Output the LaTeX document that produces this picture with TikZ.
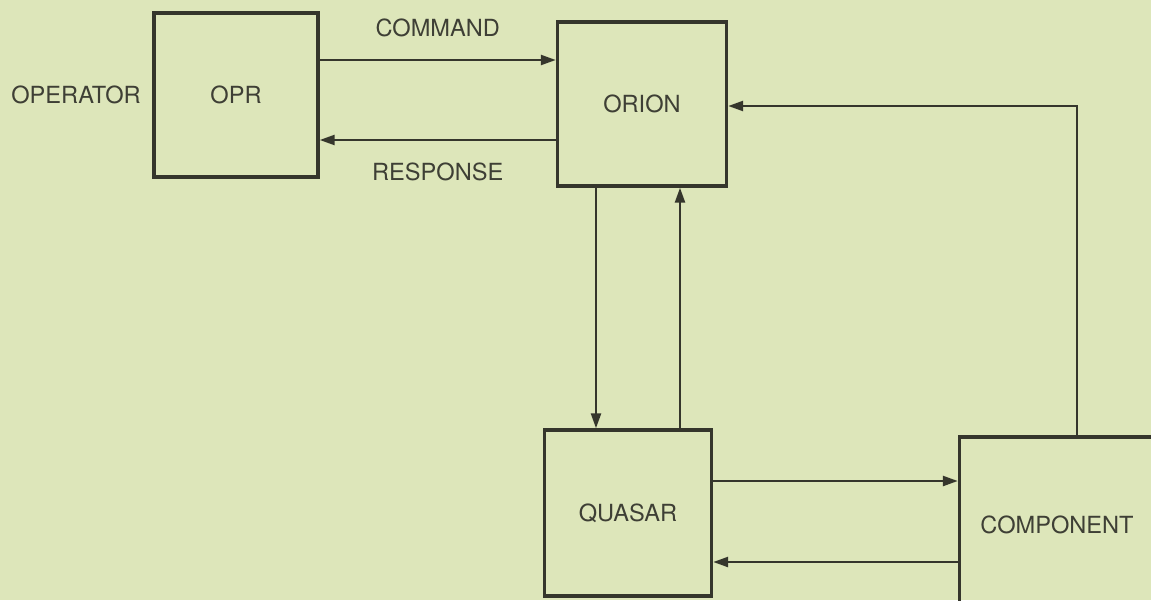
\documentclass[tikz,border=0pt]{standalone}
\usepackage{fontspec}
\setmainfont{TeX Gyre Heros}
\usetikzlibrary{arrows.meta}
\definecolor{paperF}{HTML}{DDE6BA}
\definecolor{inkB}{HTML}{35362C}
\definecolor{txtC}{HTML}{3E3F35}
\tikzset{
 box/.style={draw=inkB, line width=1.7pt, inner sep=0pt, text=txtC, font=\fontsize{11.8}{13}\selectfont},
 lbl/.style={text=txtC, inner sep=0pt, font=\fontsize{11.8}{13}\selectfont},
 arr/.style={-{Triangle[length=7.5pt,width=5pt]}, line width=1.2pt, draw=inkB},
 lin/.style={line width=1.2pt, draw=inkB},
}
\begin{document}
\begin{tikzpicture}[x=0.5pt,y=-0.5pt]
\useasboundingbox (0,0) rectangle (1151,600);
\fill[paperF] (0,0) rectangle (1151,600);
\clip (0,0) rectangle (1151,600);
% boxes
\node[lbl] (operator) at (76,95) {OPERATOR};
\node[box, minimum width=82pt, minimum height=82pt] (opr) at (236,95) {OPR};
\node[box, minimum width=84.5pt, minimum height=82pt] (orion) at (642,104) {ORION};
\node[box, minimum width=83.5pt, minimum height=83pt] (quasar) at (628,513) {QUASAR};
\node[box, minimum width=97.5pt, minimum height=88pt] (comp) at (1057,525) {COMPONENT};
% helper levels
\coordinate (cmd) at (0,60);
\coordinate (rsp) at (0,140);
\coordinate (down) at (596,0);
\coordinate (up) at (680,0);
\coordinate (back) at (1077,106);
\coordinate (qc) at (0,481);
\coordinate (cq) at (0,562);
% arrows
\draw[arr] (opr.east |- cmd) -- node[lbl, above=11pt] {COMMAND} (orion.west |- cmd);
\draw[arr] (orion.west |- rsp) -- node[lbl, below=11pt] {RESPONSE} (opr.east |- rsp);
\draw[arr] (orion.south -| down) -- (quasar.north -| down);
\draw[arr] (quasar.north -| up) -- (orion.south -| up);
\draw[arr] (comp.north -| back) |- (orion.east |- back);
\draw[arr] (quasar.east |- qc) -- (comp.west |- qc);
\draw[arr] (comp.west |- cq) -- (quasar.east |- cq);
\end{tikzpicture}
\end{document}
